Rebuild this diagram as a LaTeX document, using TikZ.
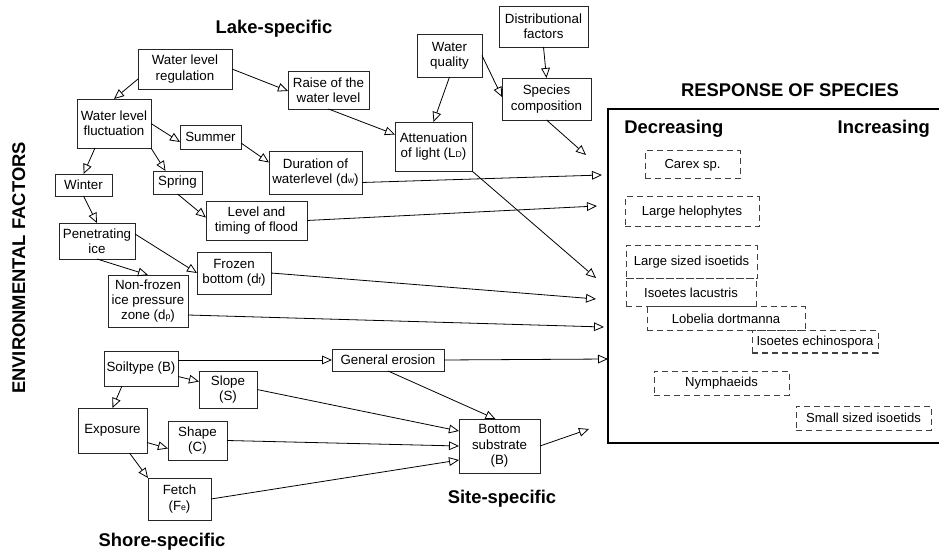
\documentclass[tikz,border=0pt]{standalone}
\usepackage{fontspec}
\setmainfont{Liberation Sans}
\usetikzlibrary{arrows.meta,calc}
\newcommand\mkbox[7][box]{\node[#1,minimum width={(#5-#3)*0.75pt},minimum height={(#6-#4)*0.75pt}] (#2) at ({(#3+#5)/2},{(#4+#6)/2}) {#7};}
\newcommand\sm[1]{{\fontsize{6.5}{6.5}\selectfont #1}}
\begin{document}
\begin{tikzpicture}[x=0.75pt,y=-0.75pt,
  box/.style={draw=black!85, line width=0.6pt, inner sep=0pt, outer sep=0pt, align=center, font=\fontsize{10}{11.5}\selectfont},
  spbox/.style={draw=black!75, line width=0.75pt, dash pattern=on 4.5pt off 3pt, inner sep=0pt, outer sep=0pt, align=center, font=\fontsize{9.8}{11}\selectfont},
  arr/.style={line width=0.6pt, -{Triangle[open,length=7.5pt,width=6.5pt]}},
  ttl/.style={font=\fontsize{13.8}{16}\selectfont\bfseries, inner sep=0pt, anchor=base}
]
\useasboundingbox (0,0) rectangle (939,552);

% titles
\node[ttl] (tlake) at (274,34) {Lake-specific};
\node[ttl] (tsite) at (502,503) {Site-specific};
\node[ttl] (tshore) at (162,546) {Shore-specific};
\node[ttl] (tresp) at (790,97) {RESPONSE OF SPECIES};
\node[ttl, anchor=base west] (tdec) at (624,134) {Decreasing};
\node[ttl, anchor=base east] (tinc) at (930,134) {Increasing};
\node[ttl, rotate=90] (tenv) at (25,268) {ENVIRONMENTAL FACTORS};

% factor boxes
\mkbox{wlr}{138}{49}{232}{89}{Water level\\regulation}
\mkbox{raise}{288}{71}{369}{109}{Raise of the\\water level}
\mkbox{wlf}{77}{99}{151}{148}{Water level\\fluctuation}
\mkbox{summer}{180}{125}{241}{149}{Summer}
\mkbox{dur}{269}{151}{362}{194}{Duration of\\waterlevel (d\sm{w})}
\mkbox{winter}{55}{174}{112}{196}{Winter}
\mkbox{spring}{153}{171}{202}{194}{Spring}
\mkbox{flood}{206}{201}{307}{240}{Level and\\timing of flood}
\mkbox{pen}{59}{223}{135}{259}{Penetrating\\ice}
\mkbox{frozen}{197}{252}{271}{294}{Frozen\\bottom (d\sm{f})}
\mkbox{nonfrozen}{108}{275}{188}{327}{Non-frozen\\ice pressure\\zone (d\sm{p})}
\mkbox{soil}{104}{351}{178}{386}{Soiltype (B)}
\mkbox{slope}{199}{371}{257}{408}{Slope\\(S)}
\mkbox{expo}{78}{408}{147}{453}{Exposure}
\mkbox{shape}{168}{421}{227}{460}{Shape\\(C)}
\mkbox{fetch}{148}{478}{211}{520}{Fetch\\(F\sm{e})}
\mkbox{eros}{332}{349}{444}{371}{General erosion}
\mkbox{bsub}{459}{419}{540}{473}{Bottom\\substrate\\(B)}
\mkbox{wq}{417}{34}{482}{77}{Water\\quality}
\mkbox{dist}{499}{6}{588}{47}{Distributional\\factors}
\mkbox{spc}{502}{78}{591}{120}{Species\\composition}
\mkbox{att}{395}{122}{472}{171}{Attenuation\\of light (L\sm{D})}

% response box
\mkbox[draw, line width=2pt, inner sep=0pt, outer sep=0pt]{resp}{608}{109}{962}{443}{}

% species boxes
\mkbox[spbox]{carex}{645}{151}{740}{179}{Carex sp.}
\mkbox[spbox]{helo}{625}{197}{759}{227}{Large helophytes}
\mkbox[spbox]{lsi}{626}{246}{757}{279}{Large sized isoetids}
\mkbox[spbox]{lac}{626}{279}{756}{307}{Isoetes lacustris}
\mkbox[spbox]{lob}{647}{307}{805}{331}{Lobelia dortmanna}
\mkbox[spbox]{ech}{752}{331}{878}{353}{Isoetes echinospora}
\mkbox[spbox]{nym}{654}{371}{789}{395}{Nymphaeids}
\mkbox[spbox]{ssi}{796}{406}{931}{430}{Small sized isoetids}

% free ends
\coordinate (e1) at (586,155);
\coordinate (e2) at (602,175);
\coordinate (e3) at (596,278);
\coordinate (e4) at (597,206);
\coordinate (e5) at (596,299);
\coordinate (e6) at (604,327);
\coordinate (e7) at (589,429);

% connectors
\draw[arr] ($(wlr.south west)+(0,-10)$) -- (wlf.north);
\draw[arr] (wlr.east) -- ($(raise.west)+(0,1)$);
\draw[arr] (wlf.east) -- ($(summer.west)+(0,5)$);
\draw[arr] ($(wlf.south)+(-19,0)$) -- (winter.north);
\draw[arr] (wlf.south east) -- ($(spring.north)+(-12,0)$);
\draw[arr] ($(summer.east)+(0,6)$) -- ($(dur.west)+(0,-10)$);
\draw[arr] (winter.south) -- (pen.north);
\draw[arr] (spring.south) -- ($(flood.west)+(0,-3)$);
\draw[arr] ($(pen.east)+(0,-7)$) -- (frozen.west);
\draw[arr] (pen.south) -- ($(nonfrozen.north)$);
\draw[arr] (raise.south) -- ($(att.west)+(0,-12)$);
\draw[arr] (wq.south) -- (att.north);
\draw[arr] (wq.east) -- ($(spc.west)+(0,-2)$);
\draw[arr] (dist.south) -- (spc.north);
\draw[arr] ($(soil.north east)+(0,9)$) -- (eros.west);
\draw[arr] ($(soil.east)+(0,8)$) -- ($(slope.west)+(0,-8)$);
\draw[arr] ($(soil.south)+(-19,0)$) -- (expo.north);
\draw[arr] ($(expo.east)+(0,12)$) -- ($(shape.west)+(0,8)$);
\draw[arr] ($(expo.south)+(17,0)$) -- (fetch.north west);
\draw[arr] (slope.east) -- ($(bsub.west)+(0,-15)$);
\draw[arr] (shape.east) -- (bsub.west);
\draw[arr] (fetch.east) -- ($(bsub.west)+(0,14)$);
\draw[arr] (eros.south) -- ($(bsub.north)+(-4,0)$);
\draw[arr] (eros.east) -- ($(resp.west)+(0,83)$);
\draw[arr] (bsub.east) -- (e7);
\draw[arr] (spc.south) -- (e1);
\draw[arr] ($(dur.east)+(0,10)$) -- (e2);
\draw[arr] (att.south east) -- (e3);
\draw[arr] (flood.east) -- (e4);
\draw[arr] (frozen.east) -- (e5);
\draw[arr] ($(nonfrozen.east)+(0,14)$) -- (e6);
\end{tikzpicture}
\end{document}
